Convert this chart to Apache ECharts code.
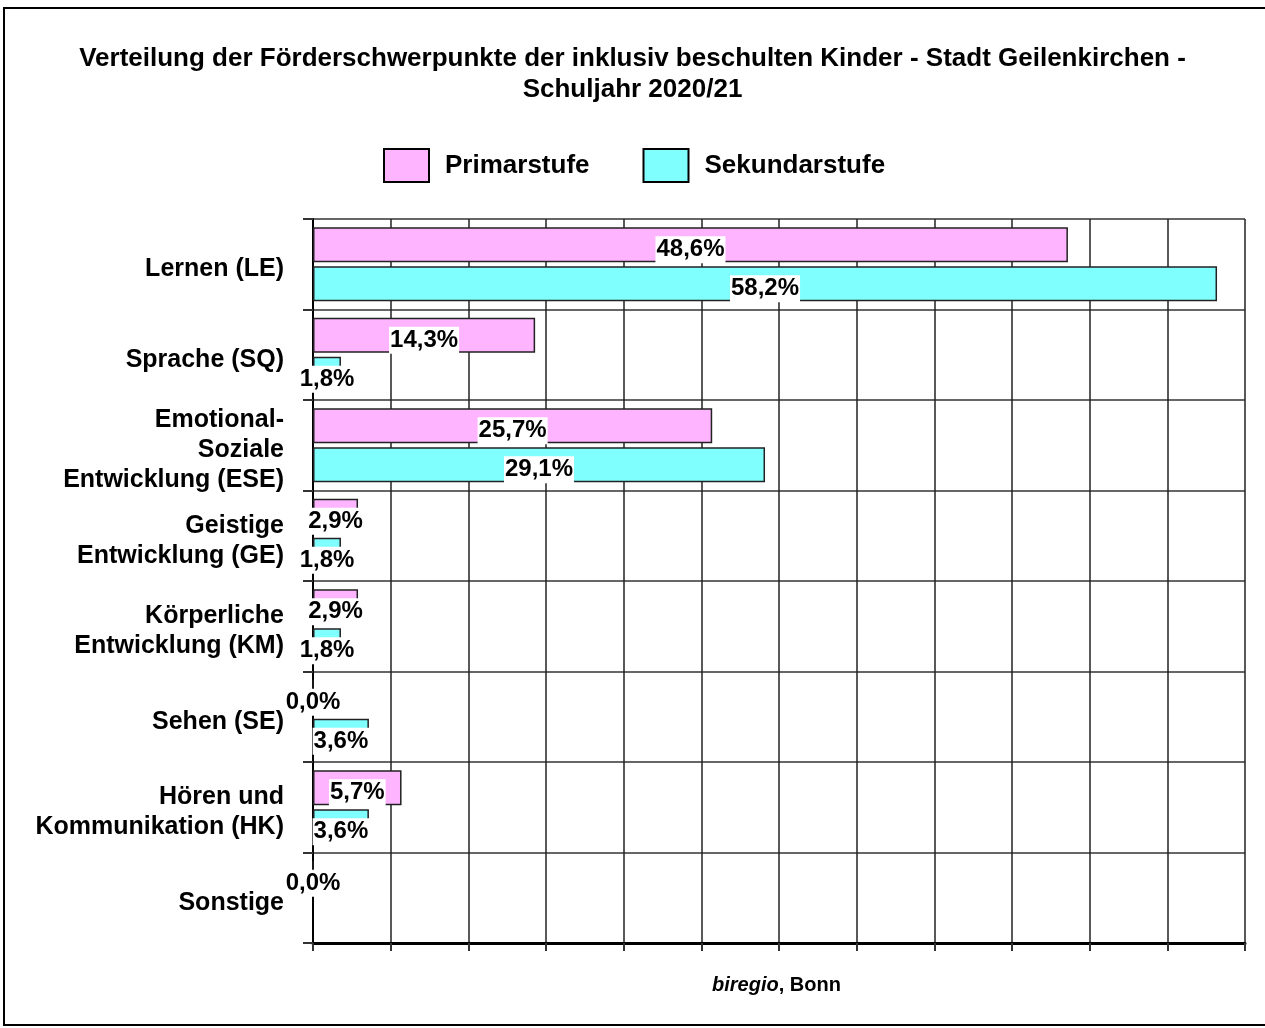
<!DOCTYPE html>
<html>
<head>
<meta charset="utf-8">
<script src="https://cdn.jsdelivr.net/npm/echarts@6/dist/echarts.min.js"></script>
<style>
  html, body { margin: 0; padding: 0; background: #fff; }
  #chart { width: 1265px; height: 1028px; }
</style>
</head>
<body>
<div id="chart"></div>
<script>
// Förderschwerpunkte (Kategorien, von oben nach unten)
const categories = [
  'Lernen (LE)',
  'Sprache (SQ)',
  'Emotional-\nSoziale\nEntwicklung (ESE)',
  'Geistige\nEntwicklung (GE)',
  'Körperliche\nEntwicklung (KM)',
  'Sehen (SE)',
  'Hören und\nKommunikation (HK)',
  'Sonstige'
];
// Anteile in % (null = kein Wert im Original)
const primarstufe = [48.6, 14.3, 25.7, 2.9, 2.9, 0.0, 5.7, 0.0];
const sekundarstufe = [58.2, 1.8, 29.1, 1.8, 1.8, 3.6, 3.6, null];
const seriesNames = ['Primarstufe', 'Sekundarstufe'];
const axisMax = 60;
const axisStep = 5;

const font = '"Liberation Sans", Arial, sans-serif';

let myChart = echarts.init(document.getElementById('chart'));

// Label wie im Original: Komma als Dezimaltrenner, weisser Hintergrund
function pct(p) {
  return p.value.toFixed(1).replace('.', ',') + '%';
}
let barLabel = {
  show: true,
  position: 'inside',
  formatter: pct,
  color: '#000',
  fontFamily: font,
  fontWeight: 'bold',
  fontSize: 24,
  backgroundColor: '#fff',
  padding: [2, 1, 1, 1],
  offset: [0, 5]
};

let option = {
  animation: false,
  backgroundColor: '#fff',
  title: {
    text: 'Verteilung der Förderschwerpunkte der inklusiv beschulten Kinder - Stadt Geilenkirchen -\nSchuljahr 2020/21',
    left: 'center',
    top: 38,
    textStyle: {
      fontFamily: font,
      fontWeight: 'bold',
      fontSize: 26,
      lineHeight: 31,
      color: '#000'
    }
  },
  color: ['#ffb4ff', '#80ffff'],
  legend: {
    data: seriesNames,
    left: 378,
    top: 143,
    itemWidth: 45,
    itemHeight: 33,
    itemGap: 53,
    icon: 'rect',
    itemStyle: { borderColor: '#000', borderWidth: 2 },
    textStyle: {
      fontFamily: font,
      fontWeight: 'bold',
      fontSize: 26,
      color: '#000',
      padding: [0, 0, 0, 11]
    }
  },
  grid: { left: 313, top: 219, right: 20, bottom: 85, containLabel: false },
  xAxis: {
    type: 'value',
    min: 0,
    max: axisMax,
    interval: axisStep,
    axisLine: { show: true, lineStyle: { color: '#000', width: 3 } },
    axisTick: { show: true, length: 8, lineStyle: { color: '#333', width: 2 } },
    axisLabel: { show: false },
    splitLine: { show: true, lineStyle: { color: '#222', width: 1.5 } }
  },
  yAxis: {
    type: 'category',
    inverse: true,
    data: categories,
    axisLine: { show: true, lineStyle: { color: '#000', width: 2 } },
    axisTick: { show: true, length: 10, interval: 0, lineStyle: { color: '#333', width: 2 } },
    splitLine: { show: true, interval: 0, lineStyle: { color: '#333', width: 1.5 } },
    axisLabel: {
      interval: 0,
      margin: 29,
      align: 'right',
      fontFamily: font,
      fontWeight: 'bold',
      fontSize: 25,
      lineHeight: 30,
      color: '#000',
      // kleine Leerzeile oben, damit die Beschriftung etwas tiefer sitzt
      formatter: function (v) { return '{s| }\n' + v; },
      rich: {
        s: { fontSize: 1, lineHeight: 10 }
      }
    }
  },
  series: [
    {
      name: seriesNames[0],
      type: 'bar',
      data: primarstufe,
      barWidth: 35,
      barGap: '12%',
      itemStyle: { borderColor: '#222', borderWidth: 1.5 },
      label: barLabel
    },
    {
      name: seriesNames[1],
      type: 'bar',
      data: sekundarstufe,
      barWidth: 35,
      barGap: '12%',
      itemStyle: { borderColor: '#222', borderWidth: 1.5 },
      label: barLabel
    }
  ],
  graphic: [
    {
      type: 'rect',
      shape: { x: 4, y: 8, width: 1300, height: 1017 },
      style: { fill: 'none', stroke: '#000', lineWidth: 2 },
      z: 100
    },
    {
      type: 'text',
      left: 712,
      top: 975,
      style: {
        text: '{i|biregio}{b|, Bonn}',
        rich: {
          i: { fontFamily: font, fontStyle: 'italic', fontWeight: 'bold', fontSize: 20, fill: '#000' },
          b: { fontFamily: font, fontWeight: 'bold', fontSize: 20, fill: '#000' }
        }
      }
    }
  ]
};
myChart.setOption(option);

window.addEventListener('resize', function () { myChart.resize() });
</script>
</body>
</html>
